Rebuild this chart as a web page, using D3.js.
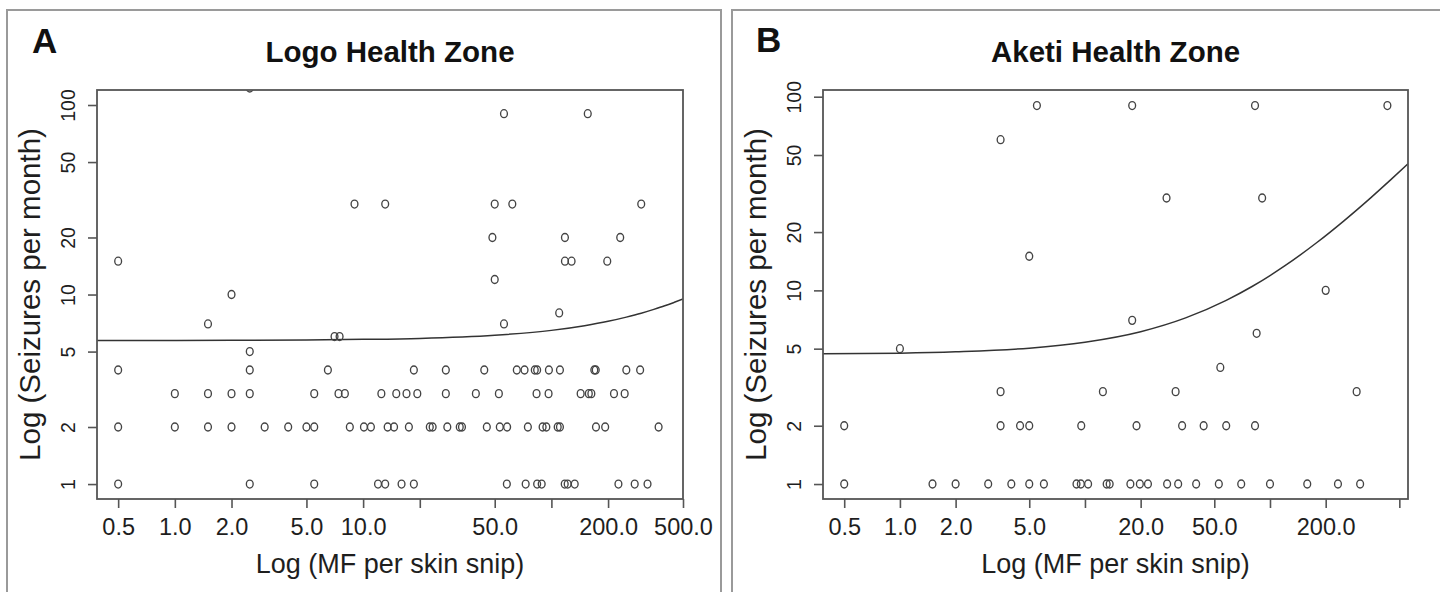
<!DOCTYPE html>
<html>
<head>
<meta charset="utf-8">
<script src="https://cdn.jsdelivr.net/npm/d3@7"></script>
<style>
  html, body { margin: 0; padding: 0; background: #fff; }
  svg { display: block; font-family: "Liberation Sans", Arial, sans-serif; }
</style>
</head>
<body>
<svg id="chart" width="1440" height="592"></svg>
<script>
'use strict';

// Panel A - Logo health zone (MF per skin snip, seizures per month)
var logoMF = [
  2.5,
  56, 156,
  9.0, 13.1, 50, 62, 300,
  48.6, 118, 232,
  0.5, 118, 128, 198,
  50, 2.0, 110, 1.5, 56, 7.05, 7.5, 2.5,
  0.5, 2.5, 6.5, 18.6, 27.5, 44, 65.5, 72, 81.6, 84, 97, 111, 169, 172, 250, 296,
  1.0, 1.5, 2.0, 2.5, 5.5, 7.4, 8.0, 12.5, 15, 17, 19.4, 27.5, 39.7, 52.6, 83.4, 96.6, 143, 158, 163, 215, 245,
  0.5, 1, 1.5, 2, 3, 4, 5, 5.5, 8.5, 10.1, 11, 13.5, 14.6, 17.5, 22.6, 23.4, 28, 32.6, 33.5, 45.4, 53.2, 58.2, 75, 89.8, 94, 108, 111, 172.5, 193, 371,
  0.5, 2.5, 5.5, 12, 13.1, 16, 18.6, 58, 73, 84, 88.8, 117.7, 122, 133, 227, 277, 324
];
var logoSeizures = [
  123,
  90, 90,
  30, 30, 30, 30, 30,
  20, 20, 20,
  15, 15, 15, 15,
  12, 10, 8, 7, 7, 6, 6, 5,
  4, 4, 4, 4, 4, 4, 4, 4, 4, 4, 4, 4, 4, 4, 4, 4,
  3, 3, 3, 3, 3, 3, 3, 3, 3, 3, 3, 3, 3, 3, 3, 3, 3, 3, 3, 3, 3,
  2, 2, 2, 2, 2, 2, 2, 2, 2, 2, 2, 2, 2, 2, 2, 2, 2, 2, 2, 2, 2, 2, 2, 2, 2, 2, 2, 2, 2, 2,
  1, 1, 1, 1, 1, 1, 1, 1, 1, 1, 1, 1, 1, 1, 1, 1, 1
];
// fitted line
var logoFitMF = [0.386, 1, 2, 5, 10, 20, 50, 100, 150, 200, 250, 300, 350, 400, 450, 500];
var logoFitSeizures = [5.72, 5.72, 5.73, 5.76, 5.8, 5.87, 6.1, 6.47, 6.85, 7.22, 7.6, 7.97, 8.35, 8.72, 9.1, 9.47];

// Panel B - Aketi health zone
var aketiMF = [
  5.5, 18, 83, 431,
  3.5,
  27.6, 90.7,
  5.0, 200, 18, 84.7, 1.0, 53.9,
  3.5, 12.5, 30.9, 294,
  0.5, 3.5, 4.46, 5.0, 9.55, 19, 33.5, 43.8, 58, 83,
  0.5, 1.5, 2.0, 3.0, 4.0, 5.0, 6.0, 9.0, 9.5, 10.4, 13.1, 13.6, 17.6, 19.8, 21.9, 27.8, 31.9, 39.9, 52.9, 69.9, 100, 159, 233, 307
];
var aketiSeizures = [
  90, 90, 90, 90,
  60,
  30, 30,
  15, 10, 7, 6, 5, 4,
  3, 3, 3, 3,
  2, 2, 2, 2, 2, 2, 2, 2, 2, 2,
  1, 1, 1, 1, 1, 1, 1, 1, 1, 1, 1, 1, 1, 1, 1, 1, 1, 1, 1, 1, 1, 1, 1, 1
];
var aketiFitMF = [0.384, 1, 2, 5, 10, 20, 35, 58, 80, 120, 180, 250, 350, 450, 557];
var aketiFitSeizures = [4.70, 4.74, 4.82, 5.03, 5.40, 6.12, 7.21, 8.88, 10.47, 13.37, 17.72, 22.8, 30.05, 37.3, 45.05];

// axis ticks
var xTicks = [0.5, 1, 2, 5, 10, 20, 50, 100, 200, 500];
var logoXLabels = [0.5, 1, 2, 5, 10, 50, 200, 500];
var aketiXLabels = [0.5, 1, 2, 5, 20, 50, 200];
var yTicks = [1, 2, 5, 10, 20, 50, 100];

var xTitle = 'Log (MF per skin snip)';
var yTitle = 'Log (Seizures per month)';

var panels = [
  {
    key: 'A', title: 'Logo Health Zone',
    mf: logoMF, sz: logoSeizures, fitMF: logoFitMF, fitSz: logoFitSeizures,
    xLabels: logoXLabels,
    xDomain: [0.386, 500], yDomain: [0.834, 120],
    frame: { x1: 7, x2: 721, y1: 10 },
    box: { left: 97, right: 683, top: 90, bottom: 499 },
    letterX: 32, letterY: 53
  },
  {
    key: 'B', title: 'Aketi Health Zone',
    mf: aketiMF, sz: aketiSeizures, fitMF: aketiFitMF, fitSz: aketiFitSeizures,
    xLabels: aketiXLabels,
    xDomain: [0.384, 557], yDomain: [0.837, 108.3],
    frame: { x1: 732, x2: 1460, y1: 10 },
    box: { left: 823, right: 1408, top: 90, bottom: 499 },
    letterX: 756, letterY: 52
  }
];

var svg = d3.select('#chart');
svg.append('rect').attr('width', 1440).attr('height', 592).attr('fill', '#fff');

var ink = '#1e1e1e';
var markInk = '#444';

panels.forEach(function(p) {
  var b = p.box;
  var g = svg.append('g').attr('class', 'panel-' + p.key);

  //outer frame
  g.append('path')
    .attr('d', 'M' + p.frame.x1 + ',600V' + p.frame.y1 + 'H' + p.frame.x2 + 'V600')
    .attr('fill', 'none')
    .attr('stroke', '#9a9a9a')
    .attr('stroke-width', 2);

  var x = d3.scaleLog().domain(p.xDomain).range([b.left, b.right]);
  var y = d3.scaleLog().domain(p.yDomain).range([b.bottom, b.top]);

  //clip to plot region
  g.append('clipPath')
    .attr('id', 'clip-' + p.key)
    .append('rect')
    .attr('x', b.left).attr('y', b.top)
    .attr('width', b.right - b.left).attr('height', b.bottom - b.top);

  //axis x
  var axisX = d3.axisBottom(x)
    .tickValues(xTicks)
    .tickFormat(function(d) { return p.xLabels.indexOf(d) >= 0 ? d.toFixed(1) : ''; })
    .tickSize(9)
    .tickSizeOuter(0);

  var gx = g.append('g')
    .attr('transform', 'translate(0,' + b.bottom + ')')
    .call(axisX);
  gx.select('.domain').remove();
  gx.selectAll('line').attr('stroke', '#555').attr('stroke-width', 1.6);
  gx.selectAll('text')
    .attr('fill', ink)
    .attr('font-size', 23.5)
    .attr('dy', 0)
    .attr('y', 36);

  //axis y (labels parallel to axis)
  var axisY = d3.axisLeft(y)
    .tickValues(yTicks)
    .tickFormat(d3.format('d'))
    .tickSize(9)
    .tickSizeOuter(0);

  var gy = g.append('g')
    .attr('transform', 'translate(' + b.left + ',0)')
    .call(axisY);
  gy.select('.domain').remove();
  gy.selectAll('line').attr('stroke', '#555').attr('stroke-width', 1.6);
  gy.selectAll('text')
    .attr('fill', ink)
    .attr('font-size', 19.5)
    .attr('text-anchor', 'middle')
    .attr('transform', 'rotate(-90)')
    .attr('x', 0)
    .attr('y', -22)
    .attr('dy', 0);

  //fitted line
  var fit = p.fitMF.map(function(d, i) { return [d, p.fitSz[i]]; });
  var line = d3.line()
    .x(function(d) { return x(d[0]); })
    .y(function(d) { return y(d[1]); })
    .curve(d3.curveMonotoneX);

  g.append('path')
    .datum(fit)
    .attr('clip-path', 'url(#clip-' + p.key + ')')
    .attr('fill', 'none')
    .attr('stroke', '#333')
    .attr('stroke-width', 1.5)
    .attr('d', line);

  //points
  var pts = p.mf.map(function(d, i) { return { mf: d, sz: p.sz[i] }; });
  g.append('g')
    .attr('clip-path', 'url(#clip-' + p.key + ')')
    .selectAll('ellipse')
    .data(pts)
    .enter()
    .append('ellipse')
    .attr('cx', function(d) { return x(d.mf); })
    .attr('cy', function(d) { return y(d.sz); })
    .attr('rx', 3.4)
    .attr('ry', 4)
    .attr('fill', 'none')
    .attr('stroke', markInk)
    .attr('stroke-width', 1.35);

  //plot box
  g.append('rect')
    .attr('x', b.left).attr('y', b.top)
    .attr('width', b.right - b.left).attr('height', b.bottom - b.top)
    .attr('fill', 'none')
    .attr('stroke', '#555')
    .attr('stroke-width', 1.8);

  var cx = (b.left + b.right) / 2;

  //titles
  g.append('text')
    .attr('x', cx).attr('y', 62)
    .attr('text-anchor', 'middle')
    .attr('font-size', 29.5)
    .attr('font-weight', 'bold')
    .attr('fill', '#111')
    .text(p.title);

  g.append('text')
    .attr('x', p.letterX).attr('y', p.letterY)
    .attr('font-size', 35)
    .attr('font-weight', 'bold')
    .attr('fill', '#111')
    .text(p.key);

  g.append('text')
    .attr('x', cx).attr('y', 573)
    .attr('text-anchor', 'middle')
    .attr('font-size', 27)
    .attr('fill', ink)
    .text(xTitle);

  g.append('text')
    .attr('transform', 'translate(' + (b.left - 57) + ',' + ((b.top + b.bottom) / 2) + ') rotate(-90)')
    .attr('text-anchor', 'middle')
    .attr('font-size', 29.5)
    .attr('fill', ink)
    .text(yTitle);
});
</script>
</body>
</html>
